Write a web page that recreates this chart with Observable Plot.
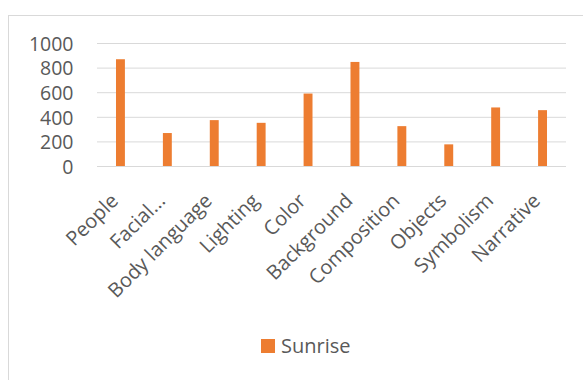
<!DOCTYPE html>
<html><head><meta charset="utf-8">
<script src="https://cdn.jsdelivr.net/npm/d3@7"></script>
<script src="https://cdn.jsdelivr.net/npm/@observablehq/plot@0.6"></script>
<style>
body{margin:0;background:#fff;width:583px;height:380px;overflow:hidden;position:relative;font-family:"Open Sans",sans-serif}
#frame{position:absolute;left:8px;top:15px;width:700px;height:500px;border:1px solid #d9d9d9;box-sizing:border-box}
#chart{position:absolute;left:0;top:0}
#legend{position:absolute;left:261px;top:332px;display:flex;align-items:center;gap:6px;font-size:20px;color:#595959;line-height:28px}
.sw{display:inline-block;width:14px;height:14px;background:#ED7D31}
</style></head><body>
<div id="frame"></div>
<div id="chart"></div>
<div id="legend"><span class="sw"></span><span id="lt"></span></div>
<script>
const categories = ["People","Facial...","Body language","Lighting","Color","Background","Composition","Objects","Symbolism","Narrative"];
const values = [868, 268, 373, 351, 589, 846, 324, 176, 476, 454];
const seriesName = "Sunrise";
const yTicks = [0, 200, 400, 600, 800, 1000];

const data = categories.map((c, i) => ({category: c, value: values[i]}));
const chart = Plot.plot({
  width: 583, height: 320,
  marginTop: 43, marginBottom: 154, marginLeft: 97, marginRight: 17,
  style: {fontFamily: "Open Sans", fontSize: "19px", color: "#595959", background: "transparent"},
  x: {domain: categories, paddingInner: 0.81, paddingOuter: 0.405, round: false, label: null},
  y: {domain: [0, 1000], label: null},
  marks: [
    Plot.gridY(yTicks, {stroke: "#d9d9d9", strokeOpacity: 1, strokeWidth: 1}),
    Plot.axisY(yTicks, {tickSize: 0, tickPadding: 24, dy: 1, tickFormat: d => String(d), label: null, fill: "#595959", fontSize: 19.5}),
    Plot.barY(data, {x: "category", y: "value", fill: "#ED7D31"}),
    Plot.axisX({tickSize: 0, tickPadding: 35.5, dx: -1.5, tickRotate: -45, textAnchor: "end", lineAnchor: "bottom", label: null, fill: "#595959", fontSize: 20})
  ]
});
document.getElementById("chart").appendChild(chart);
document.getElementById("lt").textContent = seriesName;
</script>
</body></html>
